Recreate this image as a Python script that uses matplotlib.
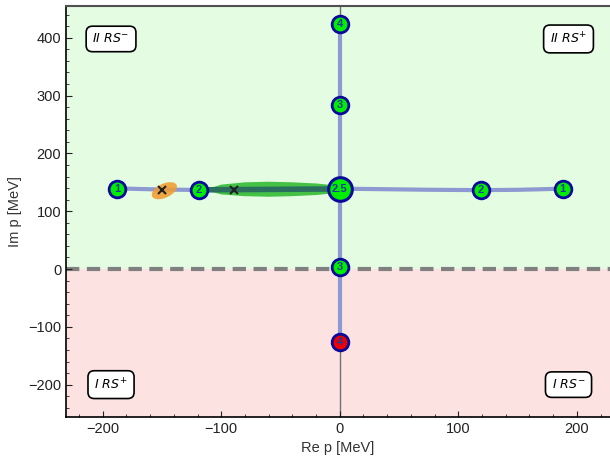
import numpy as np
import matplotlib.pyplot as plt
from matplotlib.patches import Polygon
from matplotlib.ticker import MultipleLocator

plt.rcParams['font.family'] = ['Liberation Sans', 'DejaVu Sans']

# trajectory of the pole (Re p, Im p) in MeV
path_re = [-188, -170, -150, -130, -119, -80, -40, 0, 40, 80, 119, 150, 170, 188]
path_im = [139.5, 138.5, 137.5, 137, 136.5, 137, 138, 139, 138, 137, 136.5, 137, 138, 139]
vert_re = [0, 0]
vert_im = [424, -126]

# labelled points
pt_re = [-188, -119, 188, 119, 0, 0, 0]
pt_im = [139, 137, 139, 136, 283, 424, 3]
pt_lab = ['1', '2', '1', '2', '3', '4', '3']
big_re, big_im, big_lab = 0, 139, '2.5'
red_re, red_im, red_lab = 0, -126, '4'

# crosses
cross_re = [-150, -89]
cross_im = [137, 137]

# green uncertainty band outline
band_re = [-114, -100, -80, -60, -40, -20, -5, 0, -5, -20, -40, -60, -80, -100, -114]
band_im = [137, 129, 126, 125, 126, 128, 131, 137, 145, 148, 150, 151, 150, 146, 137]

# region labels
reg_x = [-193, 193, -193, 193]
reg_y = [398, 398, -200, -200]
reg_txt = [r'$\mathit{II\ RS}^{-}$', r'$\mathit{II\ RS}^{+}$',
           r'$\mathit{I\ RS}^{+}$', r'$\mathit{I\ RS}^{-}$']

fig = plt.figure(figsize=(6.1, 4.61), dpi=100)
ax = fig.add_axes([66/610, 1-417/461, 544/610, 411/461])
xmin, xmax, ymin, ymax = -231, 228, -256, 455
ax.set_xlim(xmin, xmax)
ax.set_ylim(ymin, ymax)

ax.axhspan(0, ymax, color='#e4fce2', zorder=0)
ax.axhspan(ymin, 0, color='#fde2e2', zorder=0)
ax.axhline(0, color='#808080', lw=3, ls=(0, (3.2, 1.8)), zorder=1)
ax.axvline(0, color='#707070', lw=1, zorder=1)

lc = '#8d9ad2'
ax.plot(path_re, path_im, color=lc, lw=3, zorder=2, solid_capstyle='round')
ax.plot(vert_re, vert_im, color=lc, lw=3, zorder=2)

# orange ellipse, shaped in screen pixels (x: 1.185 px/MeV, y: 0.5775 px/MeV)
t = np.linspace(0, 2*np.pi, 80)
a, b, ang = 13.5, 7, np.radians(25)
px = a*np.cos(t)*np.cos(ang) - b*np.sin(t)*np.sin(ang)
py = a*np.cos(t)*np.sin(ang) + b*np.sin(t)*np.cos(ang)
ax.add_patch(Polygon(np.column_stack([-148 + px/1.185, 135.5 + py/0.5775]), closed=True,
                     color='#f39a2c', alpha=0.85, lw=0, zorder=3))

ax.add_patch(Polygon(np.column_stack([band_re, band_im]), closed=True, color='#3cbf3c',
                     alpha=0.95, lw=0, zorder=3))
ax.plot([-119, 0], [137, 138.5], color='#2a6e5e', lw=4, zorder=3)

ax.plot(cross_re, cross_im, 'x', color='#202020', ms=6, mew=1.5, zorder=4)

for x, y, s in zip(pt_re, pt_im, pt_lab):
    ax.plot(x, y, 'o', ms=12, mfc='#00ee00', mec='#0a0a9a', mew=2, zorder=5)
    ax.text(x, y, s, ha='center', va='center', fontsize=8, fontweight='bold', color='#1a3aa0', zorder=6)
ax.plot(big_re, big_im, 'o', ms=17, mfc='#00ee00', mec='#0a0a9a', mew=2.2, zorder=5)
ax.text(big_re, big_im, big_lab, ha='center', va='center', fontsize=8, fontweight='bold', color='#1a3aa0', zorder=6)
ax.plot(red_re, red_im, 'o', ms=12, mfc='#ee0000', mec='#0a0a9a', mew=2, zorder=5)
ax.text(red_re, red_im, red_lab, ha='center', va='center', fontsize=8, fontweight='bold', color='#1a3aa0', zorder=6)

for x, y, s in zip(reg_x, reg_y, reg_txt):
    ax.text(x, y, s, ha='center', va='center', fontsize=9, zorder=7,
            bbox=dict(boxstyle='round,pad=0.5', fc='white', ec='black', lw=1.2))

ax.xaxis.set_major_locator(MultipleLocator(100))
ax.xaxis.set_minor_locator(MultipleLocator(20))
ax.yaxis.set_major_locator(MultipleLocator(100))
ax.yaxis.set_minor_locator(MultipleLocator(20))
ax.tick_params(which='both', direction='in', top=False, right=False, labelsize=10.5, colors='#222222')
ax.tick_params(which='major', length=4)
ax.tick_params(which='minor', length=2)
ax.spines['right'].set_visible(False)
ax.spines['top'].set_color('#505050')
ax.spines['top'].set_linewidth(1.5)
for s in ['left', 'bottom']:
    ax.spines[s].set_linewidth(1.2)
ax.set_xlabel('Re p [MeV]', fontsize=10.5, color='#333333')
ax.set_ylabel('Im p [MeV]', fontsize=10.5, color='#333333')

fig.savefig('out.png', dpi=100)
